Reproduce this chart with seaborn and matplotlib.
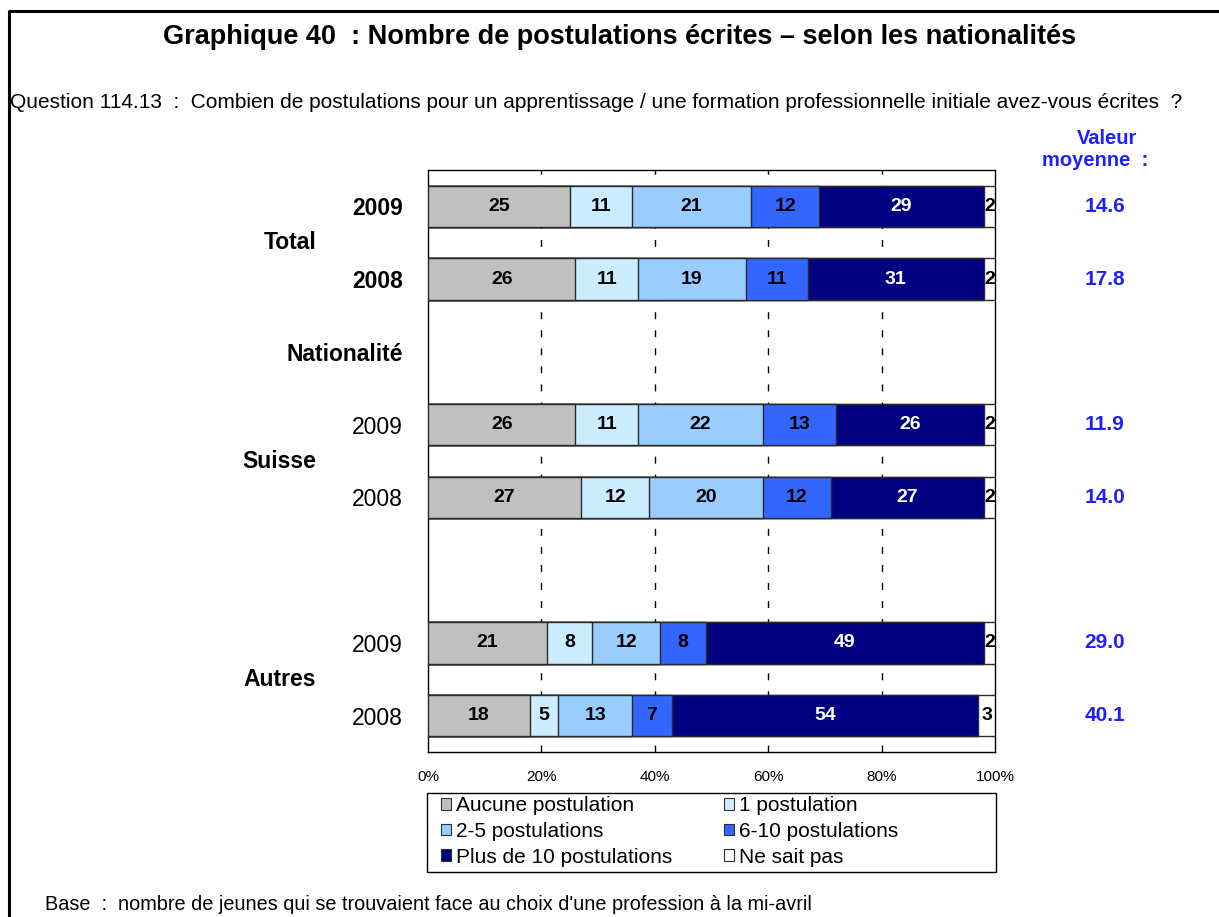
import matplotlib
matplotlib.use("Agg")
import matplotlib.pyplot as plt
import matplotlib.transforms as mtransforms
from matplotlib.lines import Line2D
from matplotlib.patches import Patch, Rectangle
import numpy as np
import pandas as pd
import seaborn as sns

# ---- data -------------------------------------------------------------
categories = ["Aucune postulation", "1 postulation", "2-5 postulations",
              "6-10 postulations", "Plus de 10 postulations", "Ne sait pas"]
row_keys = ["Total 2009", "Total 2008", "Suisse 2009", "Suisse 2008",
            "Autres 2009", "Autres 2008"]
aucune = [25, 26, 26, 27, 21, 18]
une = [11, 11, 11, 12, 8, 5]
deux_cinq = [21, 19, 22, 20, 12, 13]
six_dix = [12, 11, 13, 12, 8, 7]
plus_dix = [29, 31, 26, 27, 49, 54]
ne_sait_pas = [2, 2, 2, 2, 2, 3]
moyennes = [14.6, 17.8, 11.9, 14.0, 29.0, 40.1]

# vertical slots (including the empty separator rows)
slots = ["Total 2009", "Total 2008", "Nationalité", "Suisse 2009",
         "Suisse 2008", "vide", "Autres 2009", "Autres 2008"]
slot_labels = ["2009", "2008", "Nationalité", "2009", "2008", "", "2009", "2008"]
groups = [("Total", 0.5), ("Suisse", 3.5), ("Autres", 6.5)]

colors = ["#C0C0C0", "#CCECFF", "#99CCFF", "#3366FF", "#000080", "#FFFFFF"]
text_colors = ["black", "black", "black", "black", "white", "black"]

series = [aucune, une, deux_cinq, six_dix, plus_dix, ne_sait_pas]
values = np.array(series, dtype=float)          # shape (6 categories, 6 rows)
cum = np.cumsum(values, axis=0)

df = pd.DataFrame({"row": row_keys})
for i, cat in enumerate(categories):
    df[cat] = cum[i]

# ---- figure -------------------------------------------------------------
sns.set_theme(style="white")
plt.rcParams["font.family"] = ["Liberation Sans", "DejaVu Sans"]
plt.rcParams["text.color"] = "black"
plt.rcParams["xtick.color"] = "black"
plt.rcParams["ytick.color"] = "black"
plt.rcParams["axes.labelcolor"] = "black"

W, H = 1219, 917
fig = plt.figure(figsize=(W / 100, H / 100), dpi=100)
fig.patch.set_facecolor("white")

def px(x0, y0, x1, y1):
    return [x0 / W, 1 - y1 / H, (x1 - x0) / W, (y1 - y0) / H]

ax = fig.add_axes(px(428, 170, 995, 752))

# stacked bars: draw cumulative totals from the widest to the narrowest
for i in range(len(categories) - 1, -1, -1):
    sns.barplot(data=df, y="row", x=categories[i], order=slots, orient="h",
                color=colors[i], saturation=1, edgecolor="#2a2a2a",
                linewidth=1.0, width=0.57, errorbar=None, ax=ax, zorder=3)

# segment value labels
for r, key in enumerate(row_keys):
    ypos = slots.index(key)
    left = 0.0
    for i in range(len(categories)):
        v = values[i, r]
        ax.text(left + v / 2, ypos, f"{int(v)}", ha="center", va="center",
                fontsize=14, fontweight="bold", color=text_colors[i], zorder=5)
        left += v

ax.set_xlim(0, 100)
ax.set_ylim(len(slots) - 0.5, -0.5)
for gx in [20, 40, 60, 80]:
    ax.axvline(gx, color="black", lw=1.0, ls=(0, (5, 8)), zorder=1)

ax.set_xticks([0, 20, 40, 60, 80, 100])
ax.set_xticklabels([f"{t}%" for t in [0, 20, 40, 60, 80, 100]], fontsize=11)
ax.tick_params(axis="x", length=0, pad=13)
ax.set_yticks(range(len(slots)))
ax.set_yticklabels(slot_labels, fontsize=16.5)
for j, lab in enumerate(ax.get_yticklabels()):
    if j < 3:
        lab.set_fontweight("bold")
ax.tick_params(axis="y", length=0, pad=18)
ax.set_xlabel("")
ax.set_ylabel("")
for sp in ax.spines.values():
    sp.set_visible(True)
    sp.set_color("black")
    sp.set_linewidth(1.0)

# group labels to the left of the year labels
blend = mtransforms.blended_transform_factory(fig.transFigure, ax.transData)
for name, yv in groups:
    ax.text(316 / W, yv, name, transform=blend, ha="right", va="center",
            fontsize=16.5, fontweight="bold")

# mean values on the right
blue = "#1F1FFF"
fig.text(1107 / W, 1 - 139 / H, "Valeur", ha="center", va="center",
         fontsize=14.5, fontweight="bold", color=blue)
fig.text(1095 / W, 1 - 161 / H, "moyenne  :", ha="center", va="center",
         fontsize=14.5, fontweight="bold", color=blue)
for key, m in zip(row_keys, moyennes):
    ax.text(1105 / W, slots.index(key), f"{m:.1f}", transform=blend,
            ha="center", va="center", fontsize=15, fontweight="bold", color=blue)

# legend with its own rectangular frame
handles = [Patch(facecolor=colors[i], edgecolor="#303030", linewidth=0.8,
                 label=categories[i]) for i in range(len(categories))]
order = [0, 2, 4, 1, 3, 5]
fig.add_artist(Rectangle((427 / W, 1 - 872 / H), 569 / W, 79 / H,
                         transform=fig.transFigure, facecolor="white",
                         edgecolor="black", lw=1.0))
leg = fig.legend([handles[i] for i in order], [categories[i] for i in order],
                 ncol=2, loc="upper left",
                 bbox_to_anchor=(441 / W, 1 - 796 / H),
                 fontsize=15, frameon=False,
                 handlelength=0.5, handleheight=0.5, handletextpad=0.2,
                 borderpad=0, labelspacing=0.33, columnspacing=2.5,
                 borderaxespad=0)

# title, question and base
fig.text(620 / W, 1 - 37 / H,
         "Graphique 40  : Nombre de postulations écrites – selon les nationalités",
         ha="center", va="center", fontsize=19.5, fontweight="bold")
fig.text(10 / W, 1 - 102 / H,
         "Question 114.13  :  Combien de postulations pour un apprentissage / "
         "une formation professionnelle initiale avez-vous écrites  ?",
         ha="left", va="center", fontsize=15)
fig.text(45 / W, 1 - 904 / H,
         "Base  :  nombre de jeunes qui se trouvaient face au choix d'une "
         "profession à la mi-avril", ha="left", va="center", fontsize=14.3)

# outer frame (top and left edges)
fig.add_artist(Line2D([9 / W, 9 / W, 1.0], [0.0, 1 - 11 / H, 1 - 11 / H],
                      transform=fig.transFigure, color="black", lw=2.2))

fig.savefig("out.png", dpi=100)
